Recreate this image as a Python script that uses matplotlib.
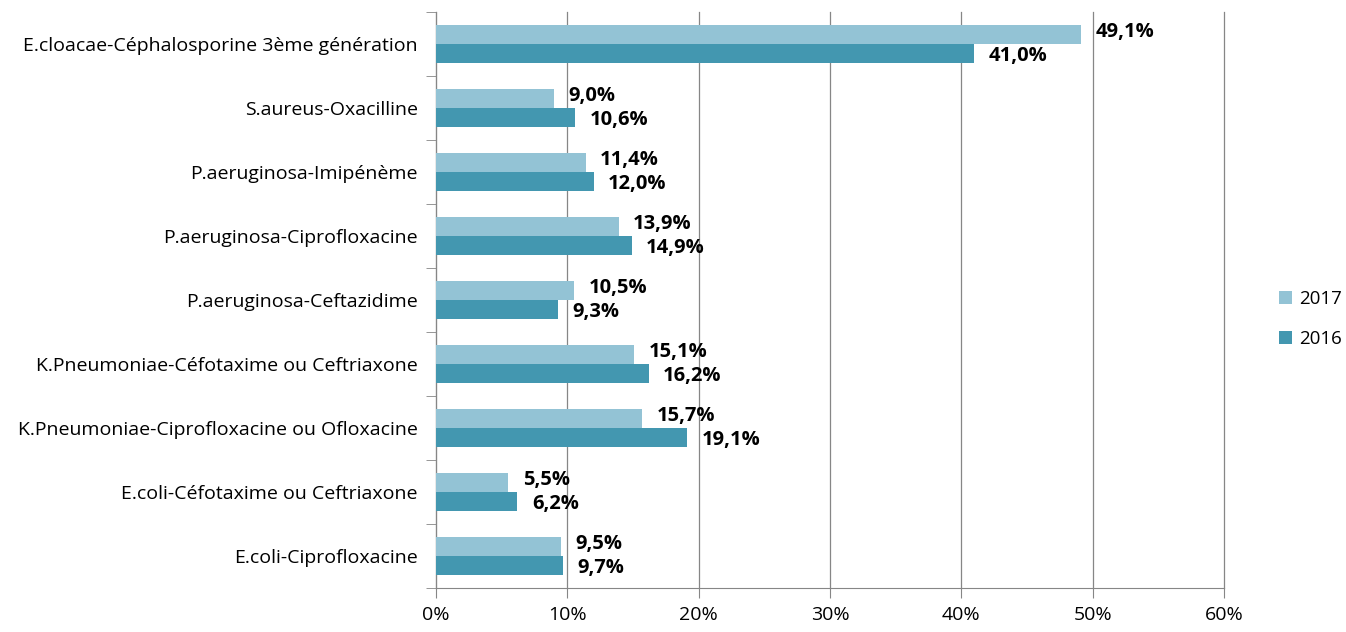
import matplotlib.pyplot as plt
import numpy as np
from matplotlib.ticker import FuncFormatter

categories = [
    "E.coli-Ciprofloxacine",
    "E.coli-Céfotaxime ou Ceftriaxone",
    "K.Pneumoniae-Ciprofloxacine ou Ofloxacine",
    "K.Pneumoniae-Céfotaxime ou Ceftriaxone",
    "P.aeruginosa-Ceftazidime",
    "P.aeruginosa-Ciprofloxacine",
    "P.aeruginosa-Imipénème",
    "S.aureus-Oxacilline",
    "E.cloacae-Céphalosporine 3ème génération",
]
vals_2017 = [9.5, 5.5, 15.7, 15.1, 10.5, 13.9, 11.4, 9.0, 49.1]
vals_2016 = [9.7, 6.2, 19.1, 16.2, 9.3, 14.9, 12.0, 10.6, 41.0]

plt.rcParams['font.family'] = ['Open Sans', 'DejaVu Sans']

fig = plt.figure(figsize=(13.46, 6.32), dpi=100)
ax = fig.add_axes([436 / 1346, 44 / 632, 788 / 1346, 576 / 632])

y = np.arange(len(categories))
h = 0.29
c17 = "#93c3d5"
c16 = "#4397b0"
b16 = ax.barh(y - h / 2, vals_2016, height=h, color=c16, label="2016", zorder=3)
b17 = ax.barh(y + h / 2, vals_2017, height=h, color=c17, label="2017", zorder=3)

for i in range(len(categories)):
    ax.text(vals_2017[i] + 1.1, y[i] + h / 2 + 0.05, f"{vals_2017[i]:.1f}%".replace(".", ","),
            va="center", ha="left", fontsize=14.5, fontweight="bold")
    ax.text(vals_2016[i] + 1.1, y[i] - h / 2 - 0.05, f"{vals_2016[i]:.1f}%".replace(".", ","),
            va="center", ha="left", fontsize=14.5, fontweight="bold")

ax.set_xlim(0, 60)
ax.set_ylim(-0.5, len(categories) - 0.5)
ax.set_xticks(range(0, 61, 10))
ax.xaxis.set_major_formatter(FuncFormatter(lambda v, p: f"{v:.0f}%"))
ax.set_yticks(y)
ax.set_yticklabels(categories)
ax.set_yticks(np.arange(-0.5, len(categories), 1), minor=True)
ax.tick_params(axis="y", which="major", length=0, labelsize=14, pad=13)
ax.tick_params(axis="y", which="minor", length=7, color="#868686", direction="out")
ax.tick_params(axis="x", length=7, color="#868686", labelsize=14, pad=6)
ax.grid(axis="x", color="#868686", linewidth=0.9, zorder=0)
for gl in ax.get_xgridlines():
    gl.set_clip_on(False)
for s in ["top", "right"]:
    ax.spines[s].set_visible(False)
for s in ["left", "bottom"]:
    ax.spines[s].set_color("#868686")

handles = [b17, b16]
fig.legend(handles, ["2017", "2016"], loc="center left", bbox_to_anchor=(1279 / 1346, 1 - 319 / 632),
           frameon=False, fontsize=13.5, handlelength=0.7, handleheight=0.7, labelspacing=1.2,
           handletextpad=0.4, borderpad=0, borderaxespad=0)

fig.savefig("out.png", dpi=100)
